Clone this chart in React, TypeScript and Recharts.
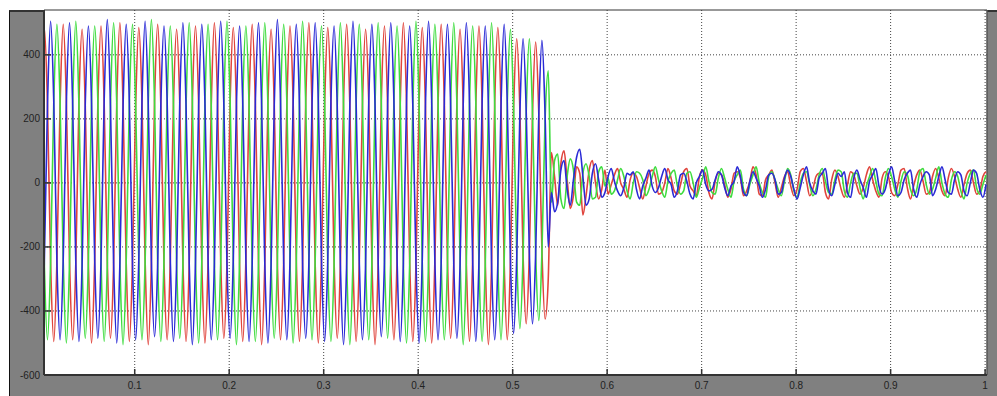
import { LineChart, Line, XAxis, YAxis, CartesianGrid, ReferenceLine } from 'recharts'

// sampling of the recorded phases (6 samples per 50 Hz cycle)
const SAMPLE_START = 0.001
const SAMPLE_STEP = 1 / 300

const xTicks = [0.1, 0.2, 0.3, 0.4, 0.5, 0.6, 0.7, 0.8, 0.9, 1]
const xTickLabels = ['0.1', '0.2', '0.3', '0.4', '0.5', '0.6', '0.7', '0.8', '0.9', '1']
const yTicks = [-600, -400, -200, 0, 200, 400]
const yTickLabels = ['-600', '-400', '-200', '0', '200', '400']

const phaseBlue = [
  -480, -250, 240, 505, 255, -245, -490, -240, 250, 500, 245, -250,
  -495, -255, 245, 490, 250, -240, -485, -245, 255, 510, 240, -250,
  -500, -250, 240, 495, 250, -255, -490, -240, 250, 505, 245, -245,
  -480, -250, 245, 490, 255, -240, -495, -255, 250, 500, 240, -250,
  -505, -245, 240, 495, 250, -245, -490, -250, 255, 505, 245, -255,
  -485, -240, 245, 490, 250, -240, -495, -250, 250, 500, 240, -250,
  -500, -255, 240, 510, 255, -245, -490, -245, 250, 495, 245, -250,
  -485, -250, 245, 500, 250, -240, -495, -240, 255, 490, 240, -255,
  -505, -250, 240, 505, 250, -245, -490, -255, 250, 495, 245, -250,
  -480, -245, 245, 500, 255, -240, -495, -250, 250, 490, 240, -250,
  -500, -240, 240, 505, 250, -245, -490, -250, 255, 495, 245, -255,
  -485, -255, 245, 500, 250, -240, -495, -245, 250, 490, 240, -250,
  -490, -250, 240, 495, 245, -245, -470, -230, 220, 450, 225, -220,
  -440, -220, 215, 445, 210, -200,
  // after the break: decaying transient
  -30, -90, -60, 40, 70, -20, -70, 10, 80, 105, 20, -70,
  -50, 30, 60, 10, -45, -30,
  // residual ripple
  20, 45, 5, -25, -40, -15, 30, 25, 35, -20, -50, -10,
  15, 40, -10, -30, -15, 20, 45, 10, -5, -45, -25, 25,
  30, 5, -35, -50, 0, 20, 40, -5, -25, -20, 10, 35,
  25, -15, -40, -10, 5, 50, 20, -30, -40, 5, 35, 15,
  -10, -45, -20, 25, 30, 10, -35, -30, 15, 40, 20, -20,
  -50, -15, 25, 50, 0, -25, -35, 15, 30, 45, -20, -40,
  -5, 30, 20, 35, -30, -45, 15, 40, 10, -15, -45, 5,
  25, 45, -10, -35, -20, 25, 50, 5, -40, -30, 10, 30,
  40, -20, -45, -5, 20, 35, 25, -40, -20, 20, 50, 10,
  -30, -35, 10, 35, 25, -25, -40, 0, 40, 30, -20, -45, -5,
]

const phaseRed = [
  250, 485, 245, -250, -495, -245, 240, 495, 255, -240, -490, -250,
  255, 480, 240, -255, -500, -240, 245, 490, 250, -245, -485, -255,
  250, 500, 245, -250, -495, -245, 240, 485, 255, -240, -505, -250,
  255, 495, 240, -255, -490, -240, 245, 480, 250, -245, -495, -255,
  250, 490, 245, -250, -500, -245, 240, 500, 255, -240, -485, -250,
  255, 485, 240, -255, -495, -240, 245, 495, 250, -245, -505, -255,
  250, 480, 245, -250, -490, -245, 240, 490, 255, -240, -495, -250,
  255, 500, 240, -255, -500, -240, 245, 485, 250, -245, -485, -255,
  250, 495, 245, -250, -495, -245, 240, 480, 255, -240, -505, -250,
  255, 490, 240, -255, -490, -240, 245, 500, 250, -245, -495, -255,
  250, 485, 245, -250, -500, -245, 240, 495, 255, -240, -485, -250,
  255, 480, 240, -255, -495, -240, 245, 490, 250, -245, -505, -255,
  250, 485, 245, -250, -490, -245, 230, 450, 225, -225, -440, -220,
  215, 440, 215, -215, -425, -300,
  95, 20, -70, 60, 100, 10, -80, -40, 50, 30, -100, -40,
  40, 70, 0, -50, -20, 40,
  -35, -5, 25, 45, 0, -20, -45, 10, 30, 20, -15, -50,
  -10, 30, 40, 20, -35, -30, 0, 45, 15, -25, -35, -5,
  35, 45, -10, -25, -40, 20, 40, 25, -30, -50, 5, 30,
  25, -5, -45, -20, 30, 35, 15, -40, -25, 5, 50, 25,
  -35, -40, 10, 25, 40, 0, -45, -15, 20, 35, -10, -40,
  -20, 35, 45, 5, -40, -20, 20, 30, 30, -30, -50, 10,
  40, 20, -20, -45, -5, 35, 25, -10, -35, -15, 25, 50,
  10, -25, -45, 15, 35, 20, -30, -40, -5, 40, 45, -15,
  -50, -10, 25, 40, 5, -35, -30, 20, 45, 15, -25, -40,
  15, 45, 20, -20, -45, -5, 30, 40, 0, -35, -25, 20, 35,
]

const phaseGreen = [
  245, -250, -490, -245, 250, 495, 250, -240, -500, -250, 245, 505,
  240, -255, -485, -240, 255, 490, 255, -245, -495, -255, 240, 500,
  245, -250, -505, -245, 250, 495, 240, -240, -490, -250, 245, 510,
  250, -255, -495, -240, 255, 490, 245, -250, -485, -255, 240, 500,
  255, -245, -500, -245, 250, 495, 240, -250, -490, -250, 245, 505,
  250, -240, -505, -240, 255, 490, 245, -255, -495, -255, 240, 500,
  240, -250, -485, -245, 250, 495, 255, -245, -500, -250, 245, 505,
  245, -240, -490, -240, 255, 490, 250, -255, -495, -255, 240, 500,
  240, -250, -505, -245, 250, 495, 255, -245, -490, -250, 245, 500,
  245, -240, -485, -240, 255, 490, 250, -255, -500, -255, 240, 505,
  240, -250, -495, -245, 250, 495, 255, -245, -490, -250, 245, 500,
  245, -240, -505, -240, 255, 490, 250, -255, -495, -255, 240, 500,
  240, -250, -490, -245, 250, 480, 230, -225, -455, -230, 220, 450,
  215, -220, -430, -215, 200, 350,
  -60, 70, 90, -50, -80, 20, 75, 40, -60, -70, 30, 60,
  20, -50, -45, 35, 50, -10,
  15, -35, -25, 10, 45, 20, -25, -50, 0, 35, 30, 10,
  -40, -20, 20, 50, 10, -25, -45, 5, 30, 40, -10, -35,
  -25, 30, 35, 0, -45, -15, 15, 50, 5, -30, -35, 15,
  45, 15, -20, -45, 5, 25, 40, -20, -40, -5, 25, 50,
  0, -30, -45, 20, 35, 10, -20, -40, 5, 45, 25, -25,
  -45, 0, 30, 35, -5, -40, -20, 25, 45, 5, -30, -35,
  10, 40, 35, -25, -45, 0, 30, 30, -15, -50, -10, 20,
  45, 5, -35, -40, 15, 45, 20, -20, -45, 5, 35, 25,
  -20, -40, -20, 35, 45, -5, -35, -20, 15, 50, 0, -35,
  -45, 10, 35, 20, -25, -50, 0, 30, 40, -15, -35, -5, 25,
]

const data = phaseBlue.map((v, i) => ({
  t: SAMPLE_START + i * SAMPLE_STEP,
  blue: v,
  red: phaseRed[i],
  green: phaseGreen[i],
}))

const X_MIN = 0.004
const X_MAX = 1.002
const Y_MIN = -600
const Y_MAX = 540
const TICK_MARGIN_X = 10
const TICK_MARGIN_Y = 4
const axisColor = '#333'

function XTick(props: any) {
  const { x, y, payload } = props
  const i = xTicks.indexOf(payload.value)
  return (
    <g>
      <line x1={x} x2={x} y1={y - TICK_MARGIN_X} y2={y - TICK_MARGIN_X - 6} stroke={axisColor} strokeWidth={1.5} />
      <text x={x} y={y} dy="0.35em" textAnchor="middle" fontSize={10} fill="#222" fontFamily="Liberation Sans, Arial, sans-serif">
        {xTickLabels[i]}
      </text>
    </g>
  )
}

function YTick(props: any) {
  const { x, y, payload } = props
  const i = yTicks.indexOf(payload.value)
  return (
    <g>
      <line x1={x + TICK_MARGIN_Y} x2={x + TICK_MARGIN_Y + 7} y1={y} y2={y} stroke={axisColor} strokeWidth={1.5} />
      <text x={x} y={y} dy="0.35em" textAnchor="end" fontSize={10} fill="#222" fontFamily="Liberation Sans, Arial, sans-serif">
        {yTickLabels[i]}
      </text>
    </g>
  )
}

export default function App() {
  return (
    <div style={{ position: 'absolute', left: 0, top: 0, width: 997, height: 396, background: '#fff', overflow: 'hidden' }}>
      <div
        style={{
          position: 'absolute',
          left: 9,
          top: 10,
          width: 988,
          height: 386,
          background: '#808080',
          borderLeft: '1px solid #111',
          borderTop: '2px solid #333',
          boxSizing: 'border-box',
        }}
      />
      <div style={{ position: 'absolute', left: 0, top: 0 }}>
        <LineChart width={997} height={396} data={data} margin={{ top: 10, right: 10, bottom: 0, left: 0 }}>
          <CartesianGrid
            fill="#fff"
            stroke="#444"
            strokeDasharray="1 2"
            horizontalValues={yTicks}
            verticalValues={xTicks}
          />
          <XAxis
            dataKey="t"
            type="number"
            domain={[X_MIN, X_MAX]}
            allowDataOverflow
            ticks={xTicks}
            interval={0}
            height={21}
            tickSize={0}
            tickMargin={TICK_MARGIN_X}
            tick={<XTick />}
            axisLine={{ stroke: axisColor, strokeWidth: 2 }}
          />
          <YAxis
            type="number"
            domain={[Y_MIN, Y_MAX]}
            allowDataOverflow
            ticks={yTicks}
            interval={0}
            width={44}
            tickSize={0}
            tickMargin={TICK_MARGIN_Y}
            tick={<YTick />}
            axisLine={{ stroke: axisColor, strokeWidth: 2 }}
          />
          <ReferenceLine x={X_MAX} stroke="#555" strokeWidth={1.5} />
          <ReferenceLine y={Y_MAX} stroke="#333" strokeWidth={1} />
          <Line type="monotone" dataKey="red" stroke="#e0443c" strokeWidth={1.6} dot={false} isAnimationActive={false} />
          <Line type="monotone" dataKey="green" stroke="#3fdc3f" strokeWidth={1.6} dot={false} isAnimationActive={false} />
          <Line type="monotone" dataKey="blue" stroke="#2a2ad6" strokeWidth={1.6} dot={false} isAnimationActive={false} />
        </LineChart>
      </div>
    </div>
  )
}
